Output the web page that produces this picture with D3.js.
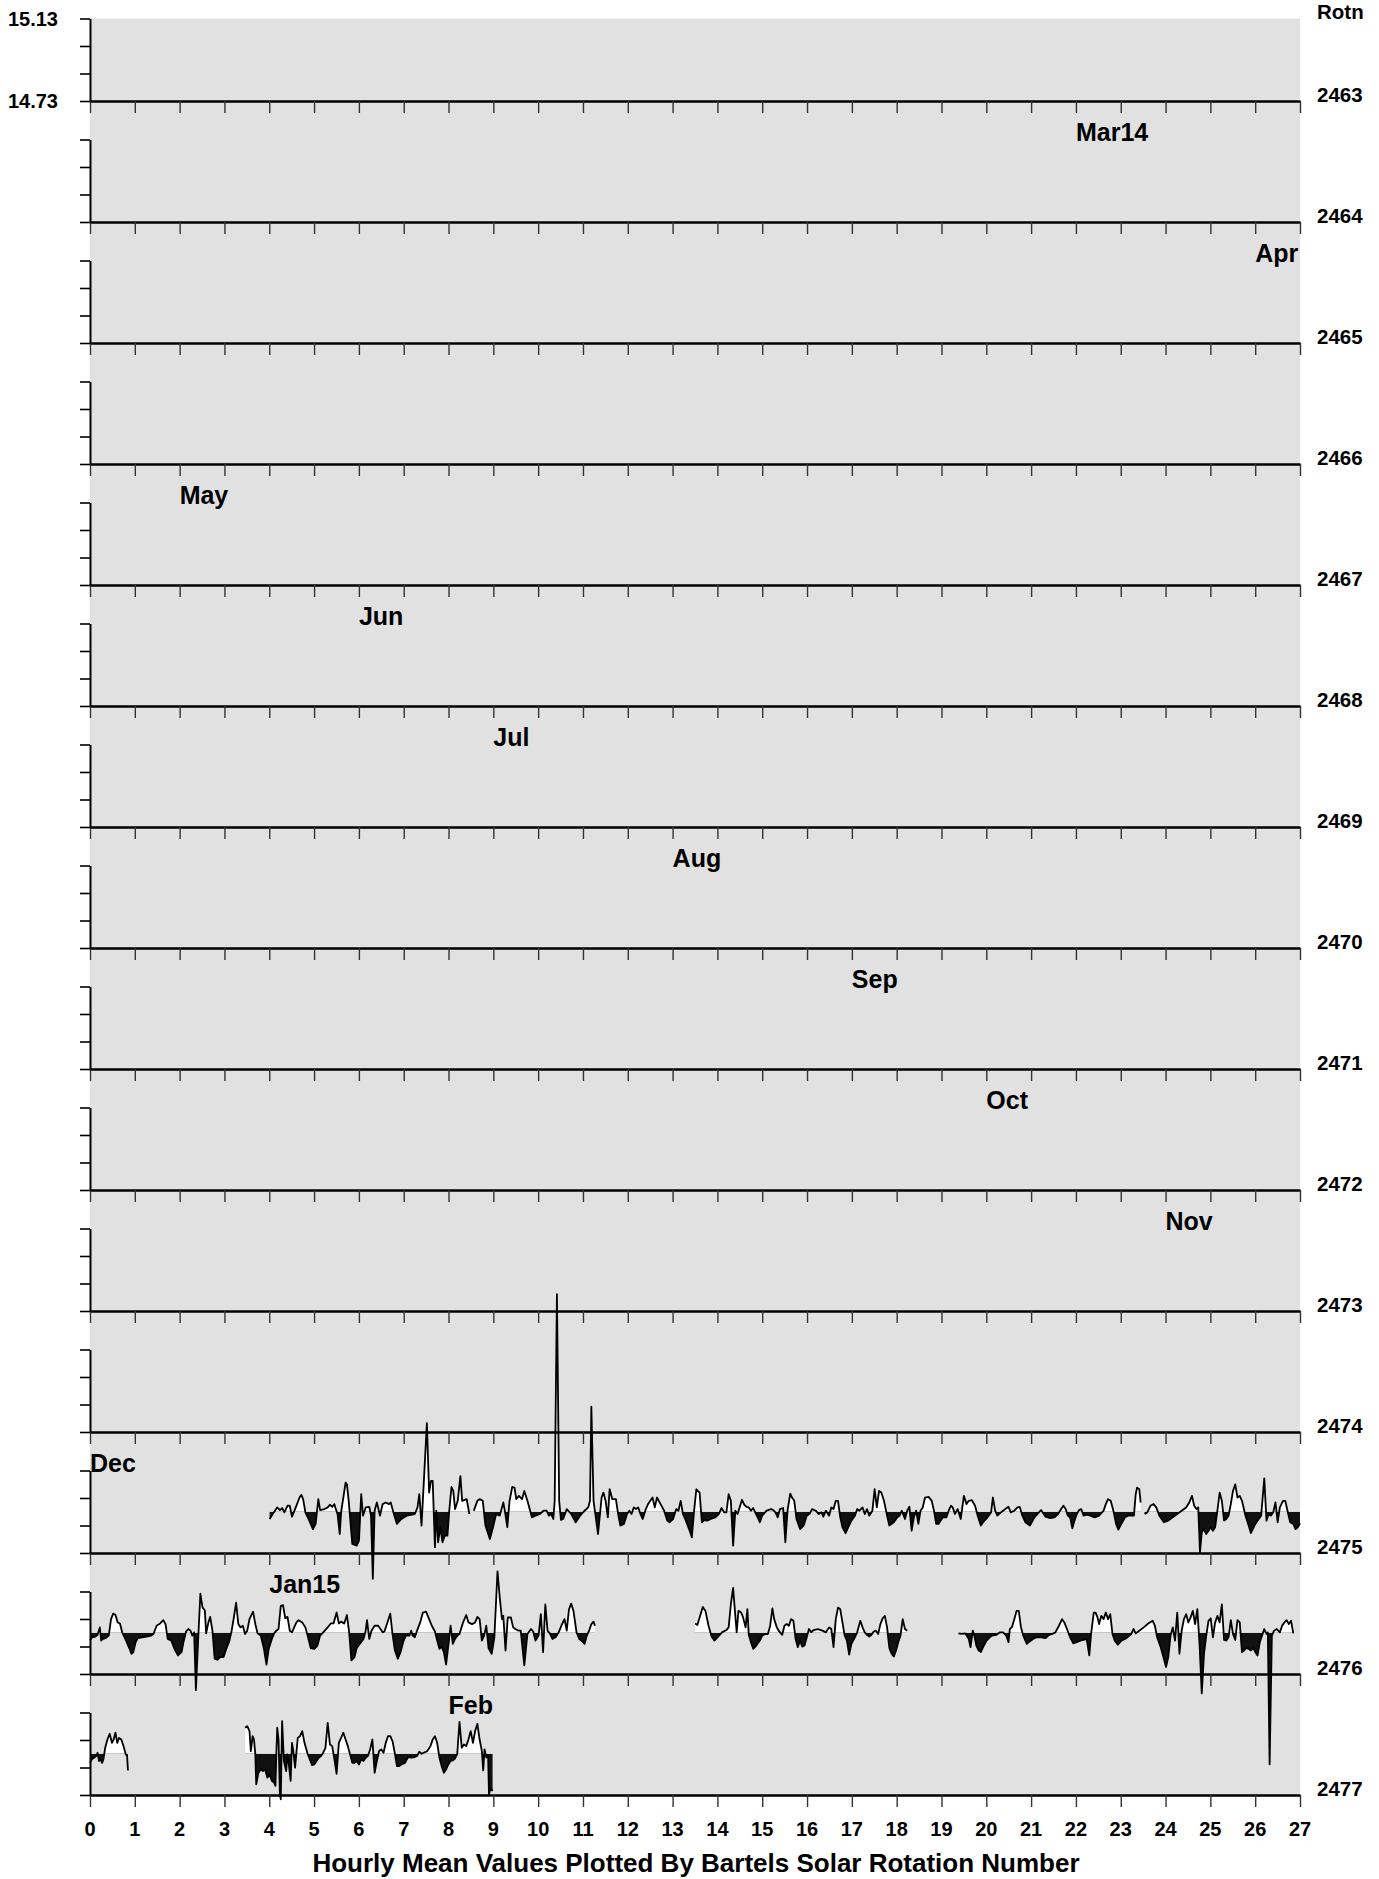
<!DOCTYPE html>
<html><head><meta charset="utf-8">
<script src="https://cdn.jsdelivr.net/npm/d3@7"></script>
<style>
body{margin:0;background:#fff}
text{font-family:"Liberation Sans",Arial,Helvetica,sans-serif;font-weight:bold;fill:#000}
</style>
</head><body>
<svg id="chart" width="1379" height="1879"></svg>
<script>
// ---------- data ----------
const rotationLabels = [2463,2464,2465,2466,2467,2468,2469,2470,2471,2472,2473,2474,2475,2476,2477];
const panelRotations = [2462,2463,2464,2465,2466,2467,2468,2469,2470,2471,2472,2473,2474,2475,2476];
const yDomain = [14.73, 15.13];
const yTickValues = [14.73, 14.8633, 14.9967, 15.13];
const yTickLabels = ["14.73", "15.13"];
const refLevel = 14.93;
const dayTicks = [0,1,2,3,4,5,6,7,8,9,10,11,12,13,14,15,16,17,18,19,20,21,22,23,24,25,26,27];
const monthNames = ["Mar14","Apr","May","Jun","Jul","Aug","Sep","Oct","Nov","Dec","Jan15","Feb"];
const monthRotation = [2463,2464,2466,2467,2468,2469,2470,2471,2472,2474,2475,2476];
const monthStartDay = [22,26,2,6,9,13,17,20,24,0,4,8];

// [day of rotation, hourly mean value]; null = data gap
const rot2474Data = [[4.008,14.895],[4.078,14.919],[4.177,14.951],[4.237,14.938],[4.287,14.948],[4.337,14.927],[4.407,14.959],[4.457,14.959],[4.507,14.906],[4.576,14.943],[4.676,14.999],[4.716,15.012],[4.756,14.991],[4.806,14.927],[4.875,14.895],[4.975,14.846],[5.035,14.871],[5.095,14.991],[5.135,14.938],[5.234,14.943],[5.304,14.951],[5.354,14.964],[5.404,14.954],[5.454,14.967],[5.474,14.951],[5.523,14.919],[5.573,14.822],[5.603,14.927],[5.653,14.999],[5.703,15.071],[5.733,15.063],[5.773,14.983],[5.852,14.774],[5.952,14.766],[6.002,14.79],[6.052,15.015],[6.092,14.911],[6.152,14.951],[6.231,14.954],[6.271,14.911],[6.311,14.605],[6.351,14.935],[6.401,14.975],[6.471,14.911],[6.53,14.967],[6.6,14.975],[6.67,14.967],[6.71,14.975],[6.77,14.927],[6.849,14.871],[6.949,14.895],[7.069,14.911],[7.248,14.919],[7.308,14.951],[7.348,15.015],[7.398,14.863],[7.448,15.071],[7.517,15.36],[7.567,15.023],[7.607,15.079],[7.647,15.079],[7.697,14.758],[7.727,14.935],[7.767,14.782],[7.817,14.855],[7.866,14.782],[7.916,14.814],[7.976,14.814],[8.016,14.935],[8.066,15.05],[8.106,15.031],[8.146,14.943],[8.206,14.983],[8.265,15.103],[8.305,14.983],[8.405,14.991],[8.465,14.919],null,[8.564,14.935],[8.644,14.983],[8.694,14.991],[8.764,14.983],[8.824,14.863],[8.923,14.798],[8.993,14.855],[9.063,14.919],[9.143,14.911],[9.223,14.975],[9.262,14.927],[9.312,14.855],[9.362,14.983],[9.422,15.05],[9.472,15.047],[9.512,14.991],[9.571,15.007],[9.641,14.991],[9.691,15.031],[9.761,14.983],[9.86,14.903],[9.94,14.911],[10.04,14.919],[10.12,14.935],[10.189,14.935],[10.239,14.911],[10.289,14.919],[10.339,14.895],[10.369,14.983],[10.419,15.985],[10.469,14.983],[10.509,14.89],[10.558,14.895],[10.638,14.943],[10.738,14.919],[10.838,14.879],[10.937,14.911],[11.037,14.935],[11.117,14.951],[11.157,14.983],[11.187,15.44],[11.236,14.983],[11.336,14.822],[11.416,14.999],[11.456,15.023],[11.505,14.983],[11.555,14.903],[11.595,15.039],[11.655,14.991],[11.735,14.991],[11.785,14.919],[11.834,14.863],[11.914,14.871],[11.984,14.919],[12.034,14.935],[12.084,14.919],[12.134,14.951],[12.183,14.943],[12.233,14.951],[12.283,14.919],[12.333,14.895],[12.403,14.943],[12.453,14.967],[12.502,14.983],[12.552,14.999],[12.602,14.951],[12.652,14.999],[12.732,14.967],[12.812,14.935],[12.881,14.887],[12.931,14.879],[13.011,14.895],[13.081,14.943],[13.131,14.935],[13.181,14.983],[13.231,14.919],[13.281,14.895],[13.381,14.838],[13.43,14.806],[13.48,14.935],[13.53,15.039],[13.603,15.023],[13.653,14.879],[13.703,14.89],[13.773,14.887],[13.852,14.895],[13.952,14.903],[14.031,14.919],[14.091,14.948],[14.151,14.927],[14.201,14.927],[14.251,15.015],[14.3,14.983],[14.35,14.766],[14.4,14.935],[14.45,14.919],[14.549,14.988],[14.599,14.964],[14.649,14.954],[14.699,14.951],[14.749,14.935],[14.798,14.948],[14.898,14.903],[14.948,14.879],[14.998,14.911],[15.097,14.935],[15.197,14.943],[15.247,14.938],[15.296,14.927],[15.346,14.903],[15.396,14.943],[15.466,14.948],[15.516,14.782],[15.565,14.935],[15.625,15.018],[15.665,14.999],[15.715,14.983],[15.765,14.895],[15.844,14.846],[15.924,14.863],[15.994,14.911],[16.063,14.922],[16.113,14.943],[16.193,14.935],[16.262,14.919],[16.322,14.927],[16.362,14.906],[16.422,14.935],[16.492,14.911],[16.541,14.951],[16.591,14.943],[16.641,14.983],[16.691,14.983],[16.741,14.903],[16.79,14.855],[16.86,14.826],[16.92,14.855],[16.99,14.887],[17.069,14.911],[17.119,14.943],[17.169,14.935],[17.239,14.951],[17.288,14.919],[17.338,14.943],[17.388,14.911],[17.458,14.935],[17.508,15.039],[17.557,14.951],[17.607,15.031],[17.657,15.023],[17.717,14.983],[17.786,14.911],[17.836,14.863],[17.936,14.879],[18.015,14.903],[18.065,14.911],[18.115,14.935],[18.185,14.895],[18.235,14.935],[18.284,14.954],[18.334,14.838],[18.384,14.903],[18.434,14.935],[18.484,14.871],[18.533,14.935],[18.583,14.951],[18.633,14.999],[18.713,15.002],[18.782,14.983],[18.832,14.935],[18.882,14.871],[18.932,14.871],[19.031,14.903],[19.111,14.903],[19.161,14.935],[19.211,14.959],[19.251,14.951],[19.3,14.919],[19.36,14.943],[19.43,14.895],[19.5,15.007],[19.559,14.967],[19.609,14.983],[19.679,14.986],[19.749,14.959],[19.808,14.911],[19.878,14.863],[19.928,14.879],[20.027,14.903],[20.107,14.927],[20.147,14.999],[20.197,14.935],[20.247,14.911],[20.326,14.927],[20.426,14.943],[20.496,14.954],[20.545,14.927],[20.625,14.935],[20.695,14.951],[20.745,14.954],[20.804,14.911],[20.874,14.879],[20.974,14.863],[21.073,14.903],[21.173,14.927],[21.223,14.938],[21.322,14.906],[21.422,14.899],[21.521,14.903],[21.601,14.919],[21.671,14.943],[21.721,14.959],[21.77,14.943],[21.82,14.911],[21.87,14.903],[21.92,14.85],[21.969,14.887],[22.019,14.919],[22.069,14.938],[22.119,14.943],[22.169,14.911],[22.239,14.916],[22.318,14.911],[22.418,14.903],[22.517,14.911],[22.617,14.935],[22.667,14.967],[22.717,14.991],[22.776,14.983],[22.836,14.935],[22.896,14.871],[22.946,14.843],[23.015,14.871],[23.095,14.903],[23.165,14.911],[23.294,14.911],[23.334,15.015],[23.364,15.047],[23.414,15.039],[23.444,14.975],null,[23.533,14.919],[23.593,14.927],[23.663,14.959],[23.733,14.967],[23.792,14.951],[23.862,14.911],[23.962,14.879],[24.061,14.887],[24.161,14.903],[24.26,14.919],[24.36,14.935],[24.46,14.951],[24.529,14.975],[24.589,15.007],[24.639,14.959],[24.689,14.943],[24.729,14.951],[24.768,14.734],[24.808,14.83],[24.858,14.846],[24.908,14.822],[24.958,14.838],[25.007,14.855],[25.057,14.838],[25.107,14.855],[25.157,14.935],[25.207,15.023],[25.256,14.983],[25.306,14.887],[25.356,14.895],[25.406,14.911],[25.456,14.967],[25.505,15.031],[25.555,15.063],[25.605,14.999],[25.655,15.007],[25.705,14.983],[25.784,14.911],[25.854,14.863],[25.904,14.826],[25.983,14.863],[26.053,14.887],[26.133,14.911],[26.203,15.092],[26.252,14.887],[26.302,14.919],[26.352,14.911],[26.402,14.927],[26.452,14.975],[26.501,14.879],[26.551,14.951],[26.621,14.983],[26.671,14.983],[26.721,14.935],[26.781,14.879],[26.85,14.871],[26.9,14.846],[26.95,14.855],[27.0,14.874]];

const rot2475Data = [[0.0,14.892],[0.05,14.908],[0.12,14.911],[0.169,14.92],[0.219,14.956],[0.249,14.892],[0.289,14.9],[0.349,14.904],[0.419,14.916],[0.469,14.996],[0.518,15.023],[0.568,15.016],[0.618,14.98],[0.668,14.975],[0.718,14.932],[0.788,14.9],[0.867,14.86],[0.927,14.828],[0.967,14.836],[1.017,14.884],[1.067,14.904],[1.167,14.908],[1.266,14.911],[1.366,14.916],[1.416,14.924],[1.486,14.964],[1.565,14.975],[1.635,14.991],[1.685,14.972],[1.735,14.9],[1.815,14.892],[1.884,14.852],[1.964,14.82],[2.044,14.836],[2.084,14.884],[2.144,14.936],[2.193,14.948],[2.243,14.94],[2.283,14.916],[2.323,14.932],[2.363,14.652],[2.423,14.94],[2.463,15.119],[2.512,15.052],[2.562,15.039],[2.592,14.927],[2.642,14.98],[2.682,15.007],[2.732,14.94],[2.782,14.804],[2.841,14.799],[2.911,14.812],[2.981,14.812],[3.041,14.852],[3.111,14.892],[3.161,14.94],[3.21,15.004],[3.26,15.076],[3.31,14.972],[3.36,14.956],[3.41,14.964],[3.46,14.924],[3.509,14.94],[3.559,14.996],[3.639,15.032],[3.689,14.972],[3.739,14.927],[3.809,14.916],[3.878,14.856],[3.938,14.776],[3.988,14.852],[4.058,14.9],[4.108,14.927],[4.158,14.94],[4.207,14.948],[4.257,15.06],[4.307,15.064],[4.357,15.0],[4.407,15.007],[4.457,14.94],[4.507,14.932],[4.556,14.956],[4.606,14.98],[4.656,14.991],[4.736,14.98],[4.806,14.956],[4.856,14.916],[4.925,14.856],[5.005,14.852],[5.075,14.868],[5.135,14.916],[5.204,14.932],[5.304,14.956],[5.374,14.975],[5.434,14.975],[5.503,15.028],[5.553,14.975],[5.603,14.984],[5.673,14.975],[5.733,15.016],[5.783,14.932],[5.833,14.796],[5.902,14.812],[5.952,14.856],[6.032,14.879],[6.102,14.9],[6.152,14.94],[6.181,14.991],[6.231,14.9],[6.281,14.94],[6.351,14.964],[6.431,14.964],[6.481,14.948],[6.53,14.932],[6.57,14.936],[6.63,14.975],[6.7,15.023],[6.75,14.924],[6.8,14.847],[6.869,14.804],[6.929,14.836],[6.999,14.892],[7.049,14.916],[7.129,14.916],[7.168,14.94],[7.198,14.916],[7.248,14.908],[7.298,14.94],[7.368,14.98],[7.428,15.028],[7.498,15.032],[7.567,14.996],[7.627,14.964],[7.697,14.936],[7.747,14.892],[7.797,14.852],[7.847,14.863],[7.896,14.836],[7.946,14.776],[7.996,14.868],[8.046,14.964],[8.096,14.876],[8.146,14.9],[8.195,14.916],[8.245,14.924],[8.325,14.98],[8.395,15.016],[8.445,14.98],[8.524,14.972],[8.594,14.98],[8.644,15.007],[8.694,14.996],[8.744,14.892],[8.794,14.916],[8.843,14.964],[8.893,14.856],[8.963,14.828],[9.023,14.908],[9.093,15.228],[9.143,15.10],[9.193,14.996],[9.222,15.012],[9.272,14.844],[9.322,15.004],[9.392,15.004],[9.442,14.956],[9.492,14.948],[9.561,14.94],[9.611,14.94],[9.691,14.772],[9.761,14.924],[9.841,14.948],[9.89,14.936],[9.94,14.892],[10.01,14.916],[10.06,15.02],[10.11,14.836],[10.16,15.068],[10.209,14.94],[10.259,14.927],[10.319,14.9],[10.389,14.908],[10.459,14.932],[10.518,14.964],[10.588,14.996],[10.638,14.94],[10.688,15.044],[10.738,15.071],[10.788,15.036],[10.857,14.932],[10.917,14.9],[10.987,14.888],[11.037,14.876],[11.087,14.916],[11.137,14.94],[11.187,14.972],[11.236,14.984],[11.266,14.964],null,
[13.504,14.975],[13.553,14.968],[13.603,15.004],[13.673,15.055],[13.733,15.036],[13.802,14.964],[13.872,14.911],[13.932,14.892],[14.002,14.908],[14.101,14.932],[14.201,14.943],[14.251,14.956],[14.3,15.068],[14.35,15.148],[14.4,15.012],[14.43,14.932],[14.47,15.036],[14.529,15.028],[14.569,15.007],[14.629,14.956],[14.669,15.044],[14.699,14.92],[14.749,14.884],[14.798,14.852],[14.868,14.868],[14.948,14.892],[14.998,14.916],[15.067,14.924],[15.127,14.924],[15.177,14.964],[15.227,15.048],[15.267,14.996],[15.326,14.956],[15.366,14.94],[15.446,14.92],[15.496,14.964],[15.545,14.972],[15.595,14.964],[15.645,14.996],[15.695,14.988],[15.745,14.9],[15.794,14.86],[15.844,14.892],[15.894,14.863],[15.944,14.868],[15.994,14.908],[16.043,14.948],[16.093,14.932],[16.143,14.943],[16.243,14.948],[16.342,14.94],[16.422,14.932],[16.492,14.956],[16.541,14.948],[16.591,14.86],[16.641,14.996],[16.691,15.052],[16.741,15.044],[16.79,14.98],[16.84,14.916],[16.89,14.892],[16.94,14.824],[16.99,14.876],[17.059,14.904],[17.119,14.932],[17.189,14.988],[17.239,14.956],[17.288,14.932],[17.338,14.92],[17.388,14.911],[17.438,14.92],[17.488,14.936],[17.537,14.94],[17.587,14.924],[17.637,14.972],[17.687,15.0],[17.737,15.012],[17.786,14.956],[17.836,14.856],[17.886,14.828],[17.936,14.815],[17.986,14.844],[18.035,14.884],[18.085,14.916],[18.135,14.996],[18.185,14.948],[18.235,14.94],null,
[19.38,14.927],[19.45,14.924],[19.529,14.927],[19.609,14.9],[19.649,14.86],[19.699,14.94],[19.729,14.92],[19.778,14.868],[19.828,14.844],[19.878,14.836],[19.928,14.86],[20.007,14.892],[20.077,14.908],[20.127,14.916],[20.227,14.92],[20.306,14.932],[20.376,14.932],[20.446,14.916],[20.496,14.884],[20.525,14.948],[20.575,14.959],[20.625,14.996],[20.675,15.036],[20.725,15.036],[20.774,14.956],[20.824,14.916],[20.904,14.876],[20.974,14.888],[21.043,14.9],[21.123,14.908],[21.223,14.908],[21.322,14.904],[21.402,14.92],[21.472,14.924],[21.541,14.932],[21.621,14.964],[21.691,14.996],[21.741,14.98],[21.8,14.948],[21.87,14.908],[21.94,14.879],[22.019,14.884],[22.099,14.892],[22.169,14.895],[22.239,14.9],[22.298,14.82],[22.338,14.924],[22.398,15.028],[22.438,15.028],[22.478,15.007],[22.517,14.972],[22.567,15.012],[22.617,14.996],[22.667,15.028],[22.717,14.996],[22.766,15.02],[22.816,14.924],[22.866,14.892],[22.936,14.872],[23.015,14.892],[23.095,14.9],[23.165,14.911],[23.235,14.924],[23.284,14.948],[23.334,14.927],[23.414,14.94],[23.513,14.956],[23.613,14.975],[23.713,14.988],[23.762,14.964],[23.812,14.908],[23.892,14.86],[23.962,14.804],[24.011,14.764],[24.061,14.812],[24.111,14.916],[24.161,14.956],[24.211,14.892],[24.261,15.028],[24.31,14.828],[24.36,14.94],[24.41,14.996],[24.46,15.02],[24.509,14.98],[24.559,15.004],[24.609,15.036],[24.659,14.972],[24.709,15.044],[24.758,14.876],[24.808,14.636],[24.858,14.828],[24.908,14.916],[24.958,14.988],[25.007,15.0],[25.057,14.908],[25.107,14.98],[25.157,15.012],[25.207,14.98],[25.256,15.068],[25.306,14.895],[25.356,14.892],[25.406,14.908],[25.456,14.991],[25.505,14.924],[25.555,14.895],[25.605,14.991],[25.655,14.98],[25.705,14.836],[25.755,14.844],[25.804,14.856],[25.854,14.852],[25.904,14.844],[25.954,14.856],[26.003,14.836],[26.053,14.82],[26.103,14.884],[26.153,14.916],[26.203,14.948],[26.252,14.924],[26.282,14.932],[26.322,14.292],[26.372,14.916],[26.422,14.94],[26.482,14.948],[26.551,14.932],[26.601,14.964],[26.651,14.98],[26.701,14.991],[26.751,14.972],[26.801,14.988],[26.85,14.927]];

const rot2476Data = [[0.0,14.886],[0.04,14.903],[0.09,14.911],[0.14,14.919],[0.169,14.935],[0.199,14.895],[0.239,14.903],[0.269,14.886],[0.299,14.903],[0.339,14.959],[0.389,14.999],[0.439,15.027],[0.489,14.983],[0.528,14.999],[0.568,15.032],[0.608,14.983],[0.648,15.007],[0.698,14.999],[0.748,14.967],[0.798,14.927],[0.828,14.919],[0.847,14.849],null,
[3.46,15.056],[3.509,15.064],[3.559,15.04],[3.589,14.943],[3.629,15.015],[3.659,14.999],[3.689,14.927],[3.709,14.782],[3.759,14.838],[3.809,14.854],[3.859,14.846],[3.908,14.854],[3.958,14.814],[4.008,14.83],[4.058,14.798],[4.108,14.79],[4.138,14.774],[4.158,14.927],[4.178,15.056],[4.207,14.999],[4.237,14.733],[4.257,14.709],[4.287,15.088],[4.327,14.895],[4.377,14.846],[4.407,14.927],[4.437,14.878],[4.477,14.798],[4.507,14.983],[4.537,14.943],[4.576,14.862],[4.606,14.935],[4.636,15.007],[4.686,15.015],[4.736,15.04],[4.786,14.983],[4.855,14.93],[4.905,14.903],[4.955,14.875],[5.005,14.878],[5.055,14.895],[5.105,14.911],[5.155,14.919],[5.204,14.935],[5.254,14.959],[5.304,15.08],[5.354,14.975],[5.404,14.967],[5.454,14.903],[5.503,14.833],[5.553,14.983],[5.603,15.007],[5.653,15.032],[5.703,14.999],[5.753,14.967],[5.803,14.927],[5.853,14.886],[5.902,14.886],[5.952,14.895],[6.002,14.878],[6.052,14.903],[6.102,14.895],[6.152,14.911],[6.201,14.919],[6.251,14.951],[6.301,14.999],[6.351,14.838],[6.401,14.895],[6.451,14.943],[6.501,14.951],[6.55,14.935],[6.6,14.983],[6.65,15.015],[6.7,15.015],[6.75,14.991],[6.8,14.935],[6.849,14.87],[6.899,14.87],[6.949,14.878],[7.029,14.886],[7.099,14.914],[7.168,14.911],[7.248,14.914],[7.298,14.919],[7.348,14.94],[7.398,14.93],[7.448,14.935],[7.527,14.943],[7.597,14.967],[7.647,14.999],[7.697,15.015],[7.747,14.983],[7.797,14.911],[7.847,14.87],[7.896,14.838],[7.946,14.854],[7.996,14.878],[8.046,14.895],[8.096,14.898],[8.146,14.907],[8.195,14.93],[8.245,15.085],[8.295,14.959],[8.345,14.975],[8.395,14.967],[8.445,14.999],[8.495,15.04],[8.545,14.983],[8.594,15.04],[8.644,15.075],[8.694,14.999],[8.744,14.943],[8.774,14.849],[8.804,14.951],[8.843,14.911],[8.883,14.919],[8.903,14.733],[8.943,14.765],[8.983,14.749]];

const dataRotations = [2474, 2475, 2476];
const dataSeries = [rot2474Data, rot2475Data, rot2476Data];

// ---------- drawing ----------
const W = 1379, H = 1879;
const svg = d3.select("#chart");
const x = d3.scaleLinear().domain([0, 27]).range([90, 1300]);
const panelIndex = d3.scaleOrdinal().domain(panelRotations).range(d3.range(panelRotations.length));
const baseY = d3.scaleLinear().domain([0, panelRotations.length - 1]).range([101, 1795]);
const panelH = 82.5;
const yFor = k => d3.scaleLinear().domain(yDomain).range([baseY(k), baseY(k) - panelH]);

svg.append("rect")
  .attr("x", x(0)).attr("y", baseY(0) - panelH)
  .attr("width", x(27) - x(0)).attr("height", baseY(panelRotations.length - 1) - baseY(0) + panelH)
  .attr("fill", "#e1e1e1");

const defs = svg.append("defs");
const plotLayer = svg.append("g");
const axisLayer = svg.append("g");

// data
dataSeries.forEach((series, i) => {
  const k = panelIndex(dataRotations[i]);
  const y = yFor(k);
  const yr = y(refLevel);
  defs.append("clipPath").attr("id", "above" + k)
    .append("rect").attr("x", 0).attr("y", -500).attr("width", W).attr("height", yr + 500);
  defs.append("clipPath").attr("id", "below" + k)
    .append("rect").attr("x", 0).attr("y", yr).attr("width", W).attr("height", H - yr + 500);
  const area = d3.area().defined(d => d).x(d => x(d[0])).y0(yr).y1(d => y(d[1]));
  const line = d3.line().defined(d => d).x(d => x(d[0])).y(d => y(d[1]));
  plotLayer.append("path").attr("d", area(series)).attr("fill", "#fff").attr("clip-path", `url(#above${k})`);
  plotLayer.append("path").attr("d", area(series)).attr("fill", "#111").attr("clip-path", `url(#below${k})`);
  plotLayer.append("path").attr("d", line(series)).attr("fill", "none")
    .attr("stroke", "#000").attr("stroke-width", 1.8).attr("stroke-linejoin", "round");
});

// axes per panel
panelRotations.forEach((rot, k) => {
  const y = yFor(k);
  const gx = axisLayer.append("g").attr("transform", `translate(0,${baseY(k)})`)
    .call(d3.axisBottom(x).tickValues(dayTicks).tickSize(12).tickSizeOuter(0).tickFormat(""));
  gx.select(".domain").attr("stroke", "#000").attr("stroke-width", 2.6);
  gx.selectAll(".tick line").attr("stroke", "#333").attr("stroke-width", 1.4);
  const gy = axisLayer.append("g").attr("transform", `translate(${x(0)},0)`)
    .call(d3.axisLeft(y).tickValues(yTickValues).tickSize(10).tickSizeOuter(0).tickFormat(""));
  gy.select(".domain").attr("stroke", "#000").attr("stroke-width", 2);
  gy.selectAll(".tick line").attr("stroke", "#000").attr("stroke-width", 1.6);
  axisLayer.append("text").attr("x", 1317).attr("y", baseY(k) + 1)
    .attr("font-size", 20.5).text(rotationLabels[k]);
});

// left value labels on first panel
const y0 = yFor(0);
axisLayer.append("text").attr("x", 58).attr("y", y0(yDomain[1])).attr("dy", "0.36em")
  .attr("text-anchor", "end").attr("font-size", 20).text(yTickLabels[1]);
axisLayer.append("text").attr("x", 58).attr("y", y0(yDomain[0])).attr("dy", "0.36em")
  .attr("text-anchor", "end").attr("font-size", 20).text(yTickLabels[0]);

axisLayer.append("text").attr("x", 1317).attr("y", baseY(0) - panelH)
  .attr("font-size", 20.5).text("Rotn");

// month labels
monthNames.forEach((m, i) => {
  const k = panelIndex(monthRotation[i]);
  axisLayer.append("text").attr("x", x(monthStartDay[i])).attr("y", baseY(k) - panelH + 1)
    .attr("font-size", 25).text(m);
});

// bottom day labels
const last = panelRotations.length - 1;
dayTicks.forEach(d => {
  axisLayer.append("text").attr("x", x(d)).attr("y", baseY(last) + 41)
    .attr("text-anchor", "middle").attr("font-size", 20).text(d);
});

axisLayer.append("text").attr("x", (x(0) + x(27)) / 2 + 1).attr("y", 1872)
  .attr("text-anchor", "middle").attr("font-size", 26)
  .text("Hourly Mean Values Plotted By Bartels Solar Rotation Number");
</script>
</body></html>
